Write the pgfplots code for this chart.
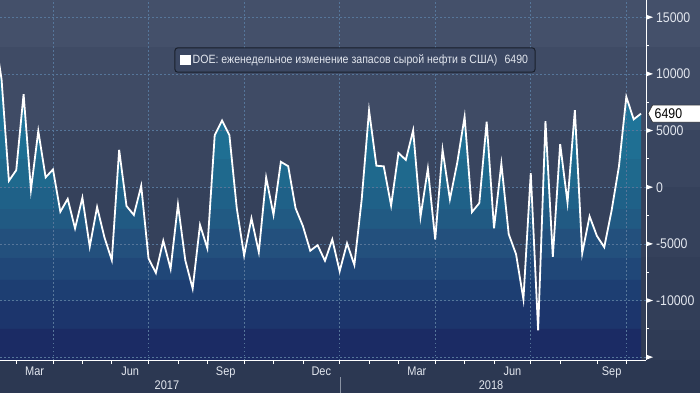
\documentclass[border=0pt]{standalone}
\usepackage{fontspec}
\setmainfont{Liberation Sans}[FakeStretch=0.88]
\usepackage{pgfplots}
\pgfplotsset{compat=1.18}
\usepackage{pgfplotstable}

\definecolor{bg1}{HTML}{44506A}
\definecolor{bg2}{HTML}{3F4B65}
\definecolor{bg3}{HTML}{39455F}
\definecolor{bg4}{HTML}{35415B}
\definecolor{bg5}{HTML}{323E58}
\definecolor{bg6}{HTML}{2F3B55}
\definecolor{bg7}{HTML}{2C3852}
\definecolor{fa}{HTML}{1F7499}
\definecolor{fb}{HTML}{1F6F93}
\definecolor{fc}{HTML}{1F698D}
\definecolor{fd}{HTML}{1F6188}
\definecolor{fe}{HTML}{215A83}
\definecolor{ff}{HTML}{23507D}
\definecolor{fg}{HTML}{204778}
\definecolor{fh}{HTML}{1D3E72}
\definecolor{fi}{HTML}{1C356C}
\definecolor{fj}{HTML}{1B2B64}
\definecolor{gridc}{HTML}{56769A}
\definecolor{lbl}{HTML}{E2E6EE}
\definecolor{legb}{HTML}{1A202C}
\definecolor{legf}{HTML}{3B4762}
\definecolor{sepc}{HTML}{8A93A3}

\pgfdeclareverticalshading{fillbands}{100bp}{%
 color(0bp)=(fj); color(29.80bp)=(fj);
 color(29.81bp)=(fi); color(34.03bp)=(fi);
 color(34.04bp)=(fh); color(37.24bp)=(fh);
 color(37.25bp)=(fg); color(40.60bp)=(fg);
 color(40.61bp)=(ff); color(45.00bp)=(ff);
 color(45.01bp)=(fe); color(48.04bp)=(fe);
 color(48.05bp)=(fd); color(51.22bp)=(fd);
 color(51.23bp)=(fc); color(55.62bp)=(fc);
 color(55.63bp)=(fb); color(59.82bp)=(fb);
 color(59.83bp)=(fa); color(100bp)=(fa)}

\pgfplotstableread{
i v
0 13830
1 9527
2 564
3 1501
4 8209
5 -237
6 4954
7 867
8 1566
9 -2166
10 -1034
11 -3641
12 -930
13 -5247
14 -1753
15 -4432
16 -6434
17 3295
18 -1661
19 -2451
20 118
21 -6299
22 -7564
23 -4727
24 -7208
25 -1527
26 -6451
27 -8945
28 -3327
29 -5392
30 4580
31 5888
32 4591
33 -1846
34 -6023
35 -2747
36 -5731
37 856
38 -2437
39 2237
40 1854
41 -1855
42 -3428
43 -5610
44 -5117
45 -6495
46 -4609
47 -7419
48 -4948
49 -6861
50 -1071
51 6776
52 1895
53 1840
54 -1616
55 3019
56 2407
57 5022
58 -2622
59 1643
60 -4617
61 3306
62 -1071
63 2170
64 6217
65 -2197
66 -1404
67 5778
68 -3620
69 2072
70 -4143
71 -5914
72 -9891
73 1245
74 -12633
75 5836
76 -6147
77 3803
78 -1352
79 6805
80 -5836
81 -2566
82 -4302
83 -5296
84 -2057
85 1852
86 7975
87 5987
88 6490
}\data

\newcommand{\tri}[1]{([yshift=2.6pt]axis cs:88.68,#1) -- ([xshift=7pt]axis cs:88.68,#1) -- ([yshift=-2.6pt]axis cs:88.68,#1) -- cycle}

\begin{document}
\begin{tikzpicture}[x=1pt,y=1pt]
\clip (0,0) rectangle (700,393);
\fill[bg1] (0,346) rectangle (700,393);
\fill[bg2] (0,263) rectangle (700,346);
\fill[bg3] (0,206) rectangle (700,263);
\fill[bg4] (0,136) rectangle (700,206);
\fill[bg5] (0,63) rectangle (700,136);
\fill[bg6] (0,33) rectangle (700,63);
\fill[bg7] (0,0) rectangle (700,33);
\draw[sepc, line width=0.8pt] (340,0) -- (340,16);
\begin{axis}[
  at={(0pt,33pt)}, anchor=south west,
  scale only axis, width=646pt, height=360pt,
  xmin=0.79, xmax=88.68, ymin=-15250, ymax=16520,
  clip=false, axis on top,
  scaled x ticks=false, scaled y ticks=false,
  axis x line*=bottom, axis y line*=right,
  axis line style={white, line width=1pt},
  xtick={3,8,12,16,21,25,29,34,38,42,47,51,55,60,64,68,73,77,82,86},
  xticklabels={},
  extra x ticks={5.5,18.5,31.5,44.5,57.5,70.5,84},
  extra x tick labels={Mar,Jun,Sep,Dec,Mar,Jun,Sep},
  extra x tick style={tick style={draw=none}, tick label style={font=\fontsize{12.5}{14}\selectfont, yshift=1pt}},
  ytick={-15000,-10000,-5000,0,5000,10000,15000},
  yticklabels={,-10000,-5000,0,5000,10000,15000},
  minor y tick num=1,
  tick align=outside,
  major tick length=4pt, minor tick length=3pt,
  tick style={white, line width=0.8pt},
  tick label style={text=lbl},
  yticklabel style={anchor=west, font=\fontsize{14}{16}\selectfont, xshift=2.5pt},
  legend style={at={(0.5495,0.8333)}, anchor=center, draw=legb, fill=legf,
    rounded corners=3pt, line width=1pt, font=\fontsize{12}{14}\selectfont,
    text=lbl, inner xsep=5pt, inner ysep=5pt},
  legend image code/.code={\fill[white, sharp corners] (0pt,-4.5pt) rectangle (9pt,4.5pt);},
]
\addplot[forget plot, draw=none, shade, shading=fillbands]
  table[x=i,y=v]{\data} -- (axis cs:88,-15250) -- (axis cs:0,-15250) -- cycle;

\draw[gridc, dash pattern=on 1.5pt off 2.5pt, line width=0.7pt]
  (axis cs:0.79,-15000) -- (axis cs:88.68,-15000)
  (axis cs:0.79,-10000) -- (axis cs:88.68,-10000)
  (axis cs:0.79,-5000) -- (axis cs:88.68,-5000)
  (axis cs:0.79,0) -- (axis cs:88.68,0)
  (axis cs:0.79,5000) -- (axis cs:88.68,5000)
  (axis cs:0.79,10000) -- (axis cs:88.68,10000)
  (axis cs:0.79,15000) -- (axis cs:88.68,15000)
  (axis cs:8,-15250) -- (axis cs:8,16520)
  (axis cs:21,-15250) -- (axis cs:21,16520)
  (axis cs:34,-15250) -- (axis cs:34,16520)
  (axis cs:47,-15250) -- (axis cs:47,16520)
  (axis cs:60,-15250) -- (axis cs:60,16520)
  (axis cs:73,-15250) -- (axis cs:73,16520)
  (axis cs:86,-15250) -- (axis cs:86,16520);

\addplot[white, line width=1.8pt] table[x=i,y=v]{\data};
\addlegendentry{DOE: еженедельное изменение запасов сырой нефти в США)\hspace{0.6em}6490\hspace{0.8em}}

\fill[white] \tri{-15000} \tri{-10000} \tri{-5000} \tri{0} \tri{5000} \tri{10000} \tri{15000};

\filldraw[fill=white, draw=black!85, line width=0.6pt]
  ([xshift=2pt]axis cs:88.68,6490) -- ([xshift=6.5pt,yshift=8.5pt]axis cs:88.68,6490)
  -- ([xshift=70pt,yshift=8.5pt]axis cs:88.68,6490) -- ([xshift=70pt,yshift=-8.5pt]axis cs:88.68,6490)
  -- ([xshift=6.5pt,yshift=-8.5pt]axis cs:88.68,6490) -- cycle;
\node[anchor=west, text=black, font=\fontsize{14}{16}\selectfont, inner sep=0pt]
  at ([xshift=8.5pt]axis cs:88.68,6490) {6490};

\node[text=lbl, font=\fontsize{12.5}{14}\selectfont] at ([yshift=-25pt]axis cs:23.5,-15250) {2017};
\node[text=lbl, font=\fontsize{12.5}{14}\selectfont] at ([yshift=-25pt]axis cs:67.6,-15250) {2018};
\end{axis}
\end{tikzpicture}
\end{document}
